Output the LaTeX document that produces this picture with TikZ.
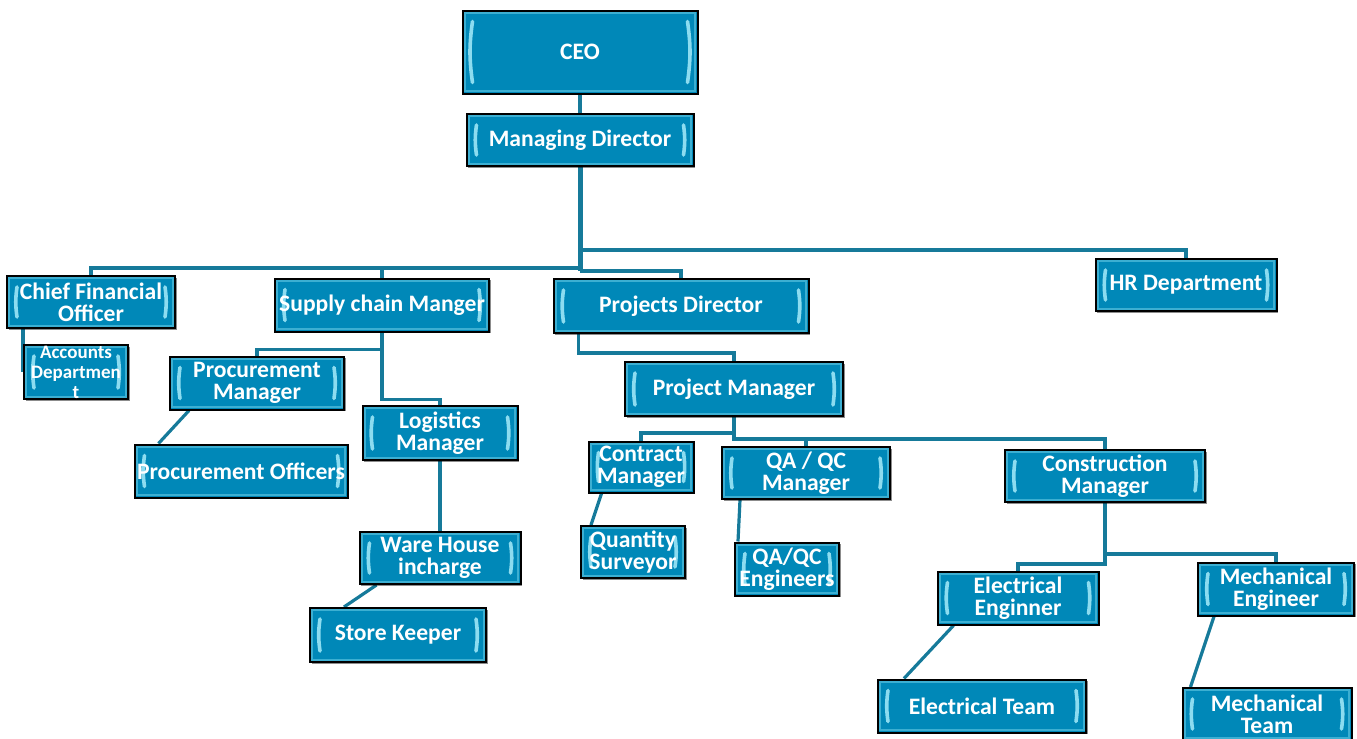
\documentclass[tikz,border=0pt]{standalone}
\usepackage{fontspec}
\setmainfont{Carlito}
\usepackage{xcolor}
\usepackage{tikz}
\usetikzlibrary{
    positioning,
    shadows,
    calc,
    backgrounds
}
\definecolor{boxblue}{RGB}{0,136,184}
\definecolor{linkblue}{RGB}{22,122,154}
\definecolor{bevelcyan}{RGB}{140,220,240}
\definecolor{rimblue}{RGB}{60,175,210}
\tikzset{
  box/.style = {
      draw=black,
      line width=1pt,
      rectangle,
      fill=boxblue,
      text=white,
      align=center,
      inner sep=0pt,
      font=\fontsize{11.8}{11}\selectfont\bfseries,
      drop shadow={shadow xshift=0.8pt, shadow yshift=-0.8pt, fill=black, opacity=0.45},
      path picture={
        \draw[rim] ([shift={(1.2pt,-1.2pt)}]path picture bounding box.north west)
            rectangle ([shift={(-1.2pt,1.2pt)}]path picture bounding box.south east);
        \draw[bevel] ([xshift=5pt,yshift=-5.5pt]path picture bounding box.north west)
            to[bend right=8] ([xshift=5pt,yshift=5.5pt]path picture bounding box.south west);
        \draw[bevel] ([xshift=-5pt,yshift=-5.5pt]path picture bounding box.north east)
            to[bend left=8] ([xshift=-5pt,yshift=5.5pt]path picture bounding box.south east);
      }
  },
  bevel/.style = {
      draw=bevelcyan,
      line width=1.8pt,
      line cap=round
  },
  rim/.style = {
      draw=rimblue,
      line width=1pt
  },
  small/.style = {
      box,
      font=\fontsize{9.5}{10}\selectfont\bfseries
  },
  link/.style = {
      draw=linkblue,
      line width=1.6pt
  },
  trunk/.style = {
      link,
      line width=2.5pt
  }
}

\begin{document}
\begin{tikzpicture}[x=0.5pt, y=-0.5pt]
    \useasboundingbox (0,0) rectangle (1357,739);
    % Nodes
    \node[box, minimum width=117.5pt, minimum height=41.5pt] (ceo) at (580,52) {CEO};
    \node[box, minimum width=113.5pt, minimum height=26pt] (md) at (580,140) {Managing Director};
    \node[box, minimum width=84pt, minimum height=26pt] (cfo) at (91,302) {Chief Financial\\Officer};
    \node[small, minimum width=52pt, minimum height=27pt] (acc) at (76,372) {Accounts\\Departmen\\t};
    \node[box, minimum width=107pt, minimum height=26.5pt] (scm) at (382,305) {Supply chain Manger};
    \node[box, minimum width=127.5pt, minimum height=27pt] (pd) at (681,306) {Projects Director};
    \node[box, minimum width=90.5pt, minimum height=26pt] (hr) at (1186,285) {HR Department};
    \node[box, minimum width=87pt, minimum height=26.5pt] (procm) at (257,383) {Procurement\\Manager};
    \node[box, minimum width=106.5pt, minimum height=26.5pt] (proco) at (241,471) {Procurement Officers};
    \node[box, minimum width=77.5pt, minimum height=27pt] (logm) at (440,433) {Logistics\\Manager};
    \node[box, minimum width=80.5pt, minimum height=26pt] (whi) at (440,558) {Ware House\\incharge};
    \node[box, minimum width=88pt, minimum height=27pt] (sk) at (398,635) {Store Keeper};
    \node[box, minimum width=109pt, minimum height=27pt] (pjm) at (734,389) {Project Manager};
    \node[box, minimum width=52.5pt, minimum height=25.5pt] (cm) at (641,467) {Contract\\Manager};
    \node[box, minimum width=84pt, minimum height=26pt] (qam) at (806,473) {QA / QC\\Manager};
    \node[box, minimum width=100pt, minimum height=26pt] (conm) at (1105,476) {Construction\\Manager};
    \node[box, minimum width=52pt, minimum height=26pt] (qs) at (633,552) {Quantity\\Surveyor};
    \node[box, minimum width=52pt, minimum height=26.5pt] (qae) at (787,569) {QA/QC\\Engineers};
    \node[box, minimum width=80.5pt, minimum height=26.5pt] (ee) at (1018,598) {Electrical\\Enginner};
    \node[box, minimum width=78pt, minimum height=26.5pt] (mech) at (1276,589) {Mechanical\\Engineer};
    \node[box, minimum width=104pt, minimum height=26.5pt] (et) at (982,706) {Electrical Team};
    \node[box, minimum width=84.5pt, minimum height=26pt] (mt) at (1267,714) {Mechanical\\Team};
    % Edges
    \begin{scope}[on background layer]
    \path[link] (ceo.south) -- (md.south);
    \path[trunk] (md.south) -- ++(0,104);
    \path[link] (md.south) ++(0,83) -| (hr.north);
    \path[link] (md.south) ++(0,101) -| (cfo.north);
    \path[link] (md.south) ++(0,104) -| (pd.north);
    \path[link] (scm.north) -- ++(0,-11);
    \path[link] (acc.west |- cfo.south) -- (acc.west);
    \path[link] (scm.south) -- ++(0,17) -| (procm.north);
    \path[link] (scm.south) -- ++(0,67) -| (logm.north);
    \path[link] ([xshift=10pt]procm.south west) -- ([xshift=12.5pt]proco.north west);
    \path[link] (logm.south) -- (whi.north);
    \path[link] ([xshift=9pt]whi.south west) -- ([xshift=17.5pt]sk.north west);
    \path[link] ([xshift=13pt]pd.south west) -- ++(0,19) -| (pjm.north);
    \path[link] (pjm.south) -- ++(0,16) -| (cm.north);
    \path[link] (pjm.south) -- ++(0,22) -| (qam.north);
    \path[link] (pjm.south) -- ++(0,22) -| (conm.north);
    \path[link] ([xshift=7pt]cm.south west) -- ([xshift=5.5pt]qs.north west);
    \path[link] ([xshift=9.5pt]qam.south west) -- ([xshift=2pt]qae.north west);
    \path[link] (conm.south) -- ++(0,61) -| (ee.north);
    \path[link] (conm.south) -- ++(0,51) -| (mech.north);
    \path[link] ([xshift=8.5pt]ee.south west) -- ([xshift=13.5pt]et.north west);
    \path[link] ([xshift=8.5pt]mech.south west) -- ([xshift=4.5pt]mt.north west);
    \end{scope}
\end{tikzpicture}
\end{document}
